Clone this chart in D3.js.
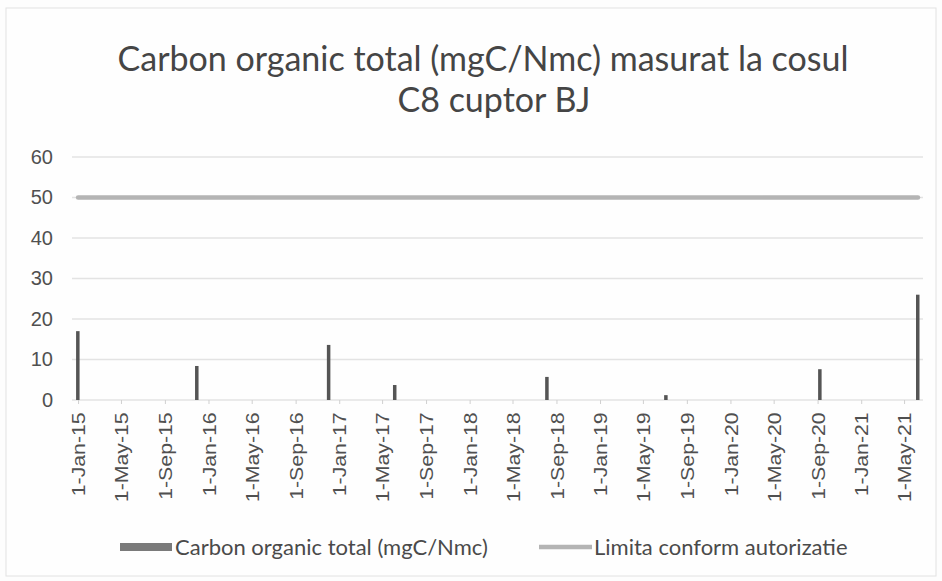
<!DOCTYPE html>
<html lang="ro">
<head>
    <meta charset="UTF-8">
    <title>Carbon organic total</title>
    <script src="https://d3js.org/d3.v7.min.js"></script>
    <style>
        body { margin: 0; background: #fdfdfd; }
        svg { display: block; }
    </style>
</head>
<body>
    <div id="chart"></div>

    <script>
        var measureDates = ["2015-01-01", "2015-11-30", "2016-12-03", "2017-06-06",
                            "2018-08-06", "2019-07-05", "2020-09-08", "2021-06-09"];
        var carbonValues = [17, 8.4, 13.6, 3.7, 5.7, 1.2, 7.6, 26];
        var limitValues = [50, 50, 50, 50, 50, 50, 50, 50];

        // X axis ticks every 4 months
        var tickDates = ["2015-01-01", "2015-05-01", "2015-09-01", "2016-01-01", "2016-05-01",
                         "2016-09-01", "2017-01-01", "2017-05-01", "2017-09-01", "2018-01-01",
                         "2018-05-01", "2018-09-01", "2019-01-01", "2019-05-01", "2019-09-01",
                         "2020-01-01", "2020-05-01", "2020-09-01", "2021-01-01", "2021-05-01"];
        var tickLabels = ["1-Jan-15", "1-May-15", "1-Sep-15", "1-Jan-16", "1-May-16",
                          "1-Sep-16", "1-Jan-17", "1-May-17", "1-Sep-17", "1-Jan-18",
                          "1-May-18", "1-Sep-18", "1-Jan-19", "1-May-19", "1-Sep-19",
                          "1-Jan-20", "1-May-20", "1-Sep-20", "1-Jan-21", "1-May-21"];
        var yTicks = [0, 10, 20, 30, 40, 50, 60];

        var seriesNames = ["Carbon organic total (mgC/Nmc)", "Limita conform autorizatie"];

        var parse = d3.timeParse("%Y-%m-%d");
        var data = measureDates.map(function(d, i) {
            return { date: parse(d), value: carbonValues[i], limit: limitValues[i] };
        });

        var svg = d3.select("#chart")
            .append("svg")
            .attr("width", 942)
            .attr("height", 581);

        // light frame of the chart area
        svg.append("rect")
            .attr("x", 6).attr("y", 8)
            .attr("width", 930).attr("height", 568)
            .attr("fill", "#fefefe")
            .attr("stroke", "#e2e2e2");

        var x = d3.scaleTime()
            .domain([parse("2014-12-15"), parse("2021-06-23")])
            .range([72, 923]);
        var y = d3.scaleLinear().domain([0, 60]).range([400, 157]);

        // gridlines
        svg.append("g")
            .selectAll("line")
            .data(yTicks)
            .enter().append("line")
            .attr("x1", x.range()[0])
            .attr("x2", x.range()[1])
            .attr("y1", function(d) { return y(d); })
            .attr("y2", function(d) { return y(d); })
            .attr("stroke", "#e3e3e3")
            .attr("stroke-width", 1.5);

        // y axis labels
        var yAxis = svg.append("g")
            .attr("transform", "translate(62,0)")
            .call(d3.axisLeft(y).tickValues(yTicks).tickSize(0).tickPadding(9));
        yAxis.select(".domain").remove();
        yAxis.selectAll("text")
            .style("font-family", "'Liberation Sans', Arial, sans-serif")
            .style("font-size", "20px")
            .attr("fill", "#505050");

        // x axis, labels stretched a little along the text like the scan
        var xAxis = svg.append("g")
            .attr("transform", "translate(0," + y(0) + ")")
            .call(d3.axisBottom(x)
                .tickValues(tickDates.map(parse))
                .tickFormat(function(d, i) { return tickLabels[i]; })
                .tickSize(4)
                .tickPadding(8));
        xAxis.select(".domain").remove();
        xAxis.selectAll(".tick line").attr("stroke", "#d0d0d0");
        xAxis.selectAll("text")
            .style("font-family", "'Liberation Sans', Arial, sans-serif")
            .style("font-size", "19px")
            .attr("fill", "#505050")
            .style("text-anchor", "end")
            .attr("x", -11)
            .attr("y", 0)
            .attr("dy", ".35em")
            .attr("transform", "rotate(-90) scale(1.12,1)");

        // limit line
        var line = d3.line()
            .x(function(d) { return x(d.date); })
            .y(function(d) { return y(d.limit); });
        svg.append("path")
            .datum(data)
            .attr("d", line)
            .attr("fill", "none")
            .attr("stroke", "#b4b4b4")
            .attr("stroke-width", 4.5)
            .attr("stroke-linecap", "round");

        // bars
        svg.append("g")
            .selectAll("rect")
            .data(data)
            .enter().append("rect")
            .attr("x", function(d) { return x(d.date) - 2; })
            .attr("y", function(d) { return y(d.value); })
            .attr("width", 3.5)
            .attr("height", function(d) { return y(0) - y(d.value); })
            .attr("fill", "#555555");

        // title
        var title = svg.append("text")
            .attr("text-anchor", "middle")
            .style("font-family", "Lato, 'Open Sans', sans-serif")
            .style("font-size", "34px")
            .attr("fill", "#454545");
        title.append("tspan").attr("x", 483).attr("y", 71)
            .text("Carbon organic total (mgC/Nmc) masurat la cosul");
        title.append("tspan").attr("x", 494).attr("y", 112)
            .text("C8 cuptor BJ");

        // legend
        var legend = svg.append("g")
            .style("font-family", "Lato, 'Open Sans', sans-serif")
            .style("font-size", "22px")
            .attr("fill", "#4a4a4a");

        legend.append("rect")
            .attr("x", 120).attr("y", 543)
            .attr("width", 52).attr("height", 8)
            .attr("fill", "#7a7a7a");
        legend.append("text")
            .attr("x", 175).attr("y", 547)
            .attr("dy", ".35em")
            .text(seriesNames[0]);

        legend.append("line")
            .attr("x1", 539).attr("x2", 592)
            .attr("y1", 547).attr("y2", 547)
            .attr("stroke", "#b4b4b4")
            .attr("stroke-width", 4.5);
        legend.append("text")
            .attr("x", 594).attr("y", 547)
            .attr("dy", ".35em")
            .text(seriesNames[1]);
    </script>
</body>
</html>
